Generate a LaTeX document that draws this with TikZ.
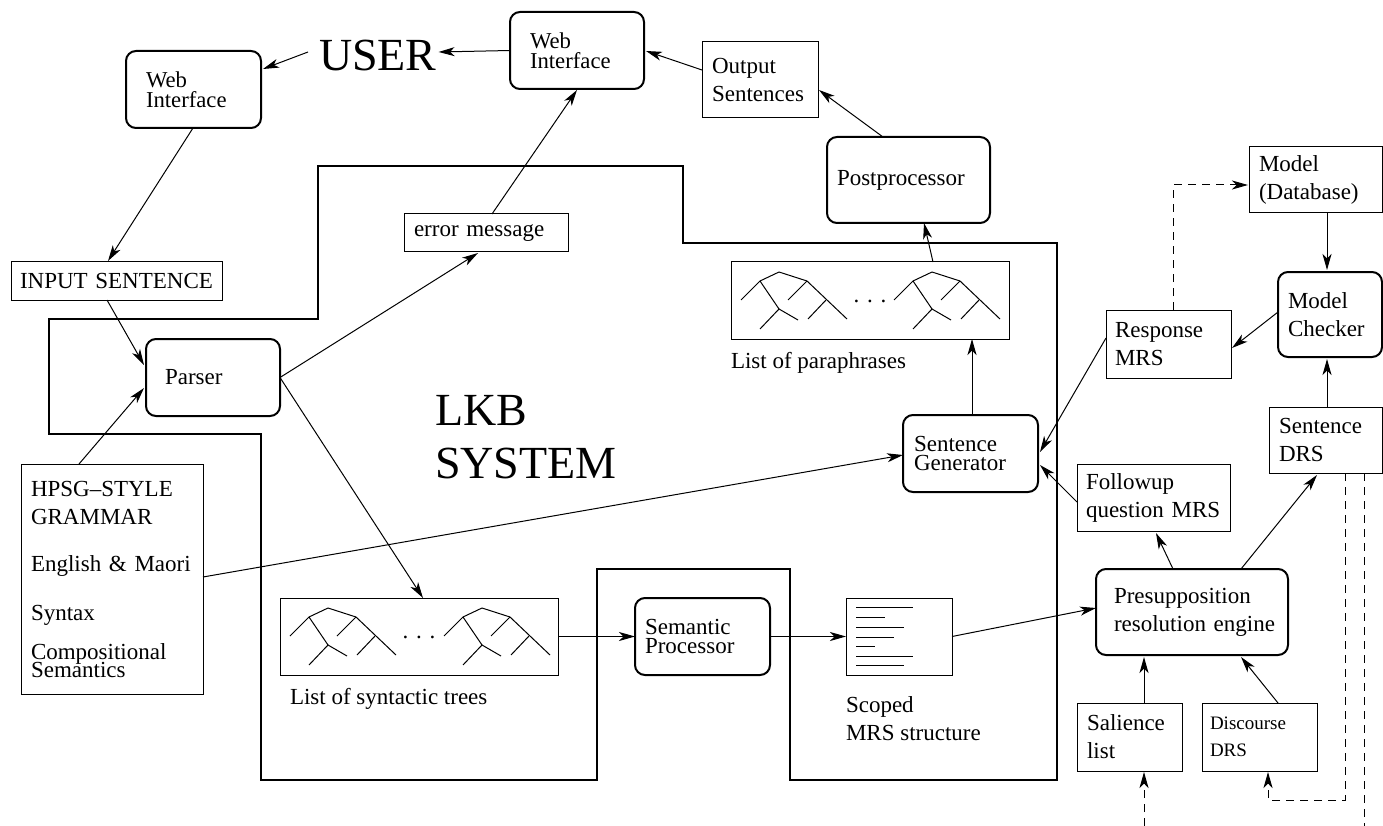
\documentclass[tikz,border=0pt]{standalone}
\usepackage{fontspec}
\setmainfont{Liberation Serif}
\usetikzlibrary{arrows.meta,calc}
\tikzset{
  every node/.style={inner sep=0pt, outer sep=0pt, execute at begin node={\hyphenpenalty=10000\exhyphenpenalty=10000\relax}},
  nf/.style={font=\fontsize{23}{28}\selectfont},
  tf/.style={font=\fontsize{23}{19.5}\selectfont, execute at begin node={\lineskiplimit=-100pt\hyphenpenalty=10000\relax}},
  wf/.style={font=\fontsize{22.7}{20}\selectfont, execute at begin node={\lineskiplimit=-100pt\hyphenpenalty=10000\relax}},
  pbox/.style={draw, line width=1pt, align=left, inner ysep=0pt},
  rbox/.style={draw, line width=2pt, rounded corners=10pt, align=left, inner ysep=0pt},
  conn/.style={line width=1pt, -{Stealth[length=16pt,width=9pt,inset=4.5pt]}},
  dsh/.style={dash pattern=on 8pt off 6pt},
  lkb/.style={line width=2.6pt, line join=miter},
  tl/.style={line width=1pt},
  ptree/.pic={
    \draw[tl] (0,0) -- (-19,9) -- (-38,28);
    \draw[tl] (0,0) -- (28,9) -- (68,47);
    \draw[tl] (-19,9) -- (0,37) -- (-19,57);
    \draw[tl] (0,37) -- (19,48);
    \draw[tl] (28,9) -- (9,28);
    \draw[tl] (47,28) -- (29,47);
  }
}
\begin{document}
\begin{tikzpicture}[x=1pt,y=-1pt]
\useasboundingbox (0,0) rectangle (1383,826);

% LKB system outline
\draw[lkb] (318,166) -- (683,166) -- (683,243) -- (1057,243) -- (1057,780) -- (790,780)
  -- (790,569) -- (597,569) -- (597,780) -- (261,780) -- (261,434) -- (49,434)
  -- (49,319) -- (318,319) -- cycle;

% nodes
\node[rbox,wf,minimum width=135pt,minimum height=77pt,text width=95pt,inner xsep=20pt] (wi1) at (193.5,89.5) {Web\\Interface};
\node[font=\fontsize{46}{54}\selectfont,anchor=base west] (user) at (319,71) {USER};
\node[rbox,wf,minimum width=134pt,minimum height=77pt,text width=94pt,inner xsep=20pt] (wi2) at (577,50.5) {Web\\Interface};
\node[pbox,nf,minimum width=116pt,minimum height=76pt,text width=96pt,inner xsep=10pt] (out) at (760,80) {Output\\Sentences};
\node[rbox,nf,minimum width=163pt,minimum height=86pt,text width=143pt,inner xsep=10pt] (post) at (908.5,180) {Postprocessor};
\node[pbox,nf,minimum width=164pt,minimum height=38pt,text width=144pt,inner xsep=10pt] (err) at (486,233) {error message};
\node[pbox,nf,minimum width=211pt,minimum height=38pt,text width=193pt,inner xsep=9pt] (input) at (116.5,281) {INPUT SENTENCE};
\node[rbox,nf,minimum width=134pt,minimum height=77pt,text width=96pt,inner xsep=19pt] (parser) at (213,377.5) {Parser};
\node[pbox,font=\fontsize{23}{18}\selectfont,execute at begin node={\lineskiplimit=-100pt\relax},minimum width=182pt,minimum height=230pt,text width=162pt,inner xsep=10pt] (hpsg) at (112,579)
  {HPSG--STYLE\\[10pt]GRAMMAR\\[29pt]English \& Maori\\[31pt]Syntax\\[21pt]Compositional\\Semantics};
\node[font=\fontsize{46}{53}\selectfont,align=left,anchor=north west] (lkbtext) at (435,395) {LKB\\SYSTEM};

\node[pbox,minimum width=278pt,minimum height=77pt] (trees) at (419,636.5) {};
\node[nf,anchor=base west] (treeslabel) at (290,704) {List of syntactic trees};
\node[rbox,tf,minimum width=135pt,minimum height=77pt,text width=115pt,inner xsep=10pt] (sp) at (702.5,636.5) {Semantic\\Processor};
\node[pbox,minimum width=106pt,minimum height=77pt] (mrs) at (899,636.5) {};
\node[nf,align=left,anchor=north west] (mrslabel) at (846,697) {Scoped\\MRS structure};
\node[rbox,nf,minimum width=192pt,minimum height=86pt,text width=172pt,inner xsep=10pt,execute at begin node={\leftskip=8pt\hyphenpenalty=10000\relax}] (pres) at (1192,612) {Presupposition\\resolution engine};
\node[pbox,minimum width=278pt,minimum height=77pt] (para) at (870,300.5) {};
\node[nf,anchor=base west] (paralabel) at (731,368) {List of paraphrases};
\node[rbox,tf,minimum width=135pt,minimum height=77pt,text width=113pt,inner xsep=11pt] (sg) at (970.5,453.5) {Sentence\\Generator};
\node[pbox,nf,minimum width=125pt,minimum height=68pt,text width=107pt,inner xsep=9pt] (resp) at (1168.5,344) {Response\\MRS};
\node[pbox,nf,minimum width=133pt,minimum height=66pt,text width=113pt,inner xsep=10pt] (model) at (1315.5,180) {Model\\(Database)};
\node[rbox,nf,minimum width=104pt,minimum height=85pt,text width=84pt,inner xsep=10pt] (mc) at (1330,314.5) {Model\\Checker};
\node[pbox,nf,minimum width=113pt,minimum height=66pt,text width=93pt,inner xsep=10pt] (sdrs) at (1325.5,440) {Sentence\\DRS};
\node[pbox,nf,minimum width=153pt,minimum height=67pt,text width=135pt,inner xsep=9pt] (fup) at (1153.5,497.5) {Followup\\question MRS};
\node[pbox,nf,minimum width=105pt,minimum height=68pt,text width=85pt,inner xsep=10pt] (sal) at (1129.5,737) {Salience\\list};
\node[pbox,font=\fontsize{19}{27}\selectfont,minimum width=115pt,minimum height=68pt,text width=99pt,inner xsep=8pt] (disc) at (1259.5,737) {Discourse\\DRS};

% trees and dots
\pic at ($(trees.north west)+(48,10)$) {ptree};
\pic at ($(trees.north west)+(202,10)$) {ptree};
\node[nf,anchor=base] (dots1) at ($(trees.north west)+(139,40)$) {. . .};
\pic at ($(para.north west)+(48,10)$) {ptree};
\pic at ($(para.north west)+(201,10)$) {ptree};
\node[nf,anchor=base] (dots2) at ($(para.north west)+(139,40)$) {. . .};

% MRS structure lines
\foreach \yy/\xe in {9/67,19/39,29/58,39/48,48/29,58/67,67/58}
  \draw[tl] ($(mrs.north west)+(10,\yy)$) -- ($(mrs.north west)+(\xe,\yy)$);

% connectors
\draw[conn] ($(user.west)+(-11,-4)$) -- ($(wi1.north west)+(137,18)$);
\draw[conn] (wi2.west) -- ($(user.east)+(2,-4)$);
\draw[conn] ($(out.north west)+(0,28)$) -- ($(wi2.north west)+(136,39)$);
\draw[conn] ($(post.north west)+(56,0)$) -- ($(out.north west)+(117,48)$);
\draw[conn] ($(para.north west)+(202,0)$) -- ($(post.south west)+(97,0)$);
\draw[conn] ($(sg.north west)+(69,0)$) -- ($(para.south west)+(241,0)$);
\draw[conn] ($(hpsg.north west)+(182,113)$) -- ($(sg.north west)+(0,40)$);
\draw[conn] ($(resp.north west)+(0,28)$) -- ($(sg.north west)+(137,37)$);
\draw[conn] ($(fup.north west)+(0,38)$) -- ($(sg.north west)+(137,50)$);
\draw[conn] ($(mc.north west)+(0,40)$) -- ($(resp.north west)+(126,38)$);
\draw[conn] ($(model.south west)+(78,0)$) -- ($(mc.north west)+(49,-2)$);
\draw[conn] ($(sdrs.north west)+(58,0)$) -- ($(mc.south west)+(49,2)$);
\draw[conn,dsh] ($(resp.north west)+(67,0)$) |- ($(model.north west)+(-1,38)$);
\draw[conn] ($(pres.north west)+(77,0)$) -- ($(fup.south west)+(79,2)$);
\draw[conn] ($(pres.north west)+(145,0)$) -- ($(sdrs.south west)+(48,2)$);
\draw[conn] ($(sal.north west)+(67,0)$) -- ($(pres.south west)+(48,2)$);
\draw[conn] ($(disc.north west)+(76,0)$) -- ($(pres.south west)+(145,2)$);
\draw[conn] (mrs.east) -- ($(pres.west)+(0,-4)$);
\draw[conn] (sp.east) -- (mrs.west);
\draw[conn] (trees.east) -- (sp.west);
\draw[conn] (parser.east) -- ($(trees.north west)+(143,0)$);
\draw[conn] (parser.east) -- ($(err.south west)+(74,1)$);
\draw[conn] ($(err.north west)+(88,0)$) -- ($(wi2.south west)+(67,1)$);
\draw[conn] ($(wi1.south west)+(67,0)$) -- ($(input.north west)+(97,-1)$);
\draw[conn] ($(input.south west)+(96,0)$) -- ($(parser.north west)+(-2,26)$);
\draw[conn] ($(hpsg.north west)+(58,0)$) -- ($(parser.north west)+(-2,49)$);

% dashed feedback lines
\coordinate (d1) at (1144,826);
\coordinate (d2) at (1364,826);
\draw[conn,dsh] (d1) -- ($(sal.south west)+(67,1)$);
\draw[conn,dsh] ($(sdrs.south west)+(76,0)$) |- ($(disc.south west)+(66,29)$) -- ($(disc.south west)+(66,1)$);
\draw[line width=1pt,dsh] ($(sdrs.south west)+(95,0)$) -- (d2);
\end{tikzpicture}
\end{document}
